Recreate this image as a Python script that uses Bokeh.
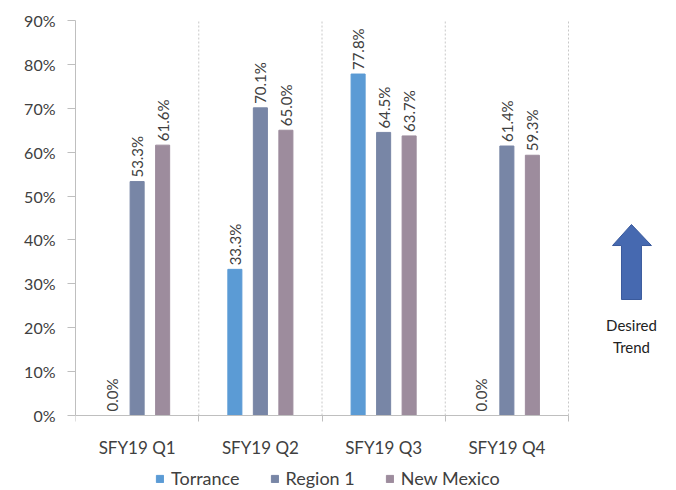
from bokeh.plotting import figure
from bokeh.models import (ColumnDataSource, Range1d, FixedTicker, Legend, LegendItem,
                          Label, CustomJSTickFormatter)
from bokeh.transform import dodge
from bokeh.core.properties import value
from bokeh.embed import file_html
from bokeh.resources import INLINE

categories = ["SFY19 Q1", "SFY19 Q2", "SFY19 Q3", "SFY19 Q4"]
series_names = ["Torrance", "Region 1", "New Mexico"]
torrance = [0.0, 33.3, 77.8, 0.0]
region1 = [53.3, 70.1, 64.5, 61.4]
new_mexico = [61.6, 65.0, 63.7, 59.3]
y_ticks = [0, 10, 20, 30, 40, 50, 60, 70, 80, 90]

colors = ["#5B9BD5", "#7886A6", "#9D8C9D"]
FONT = "Lato"
TXT = "#404040"

W, H = 676, 490
LEFT, TOP = 75, 20
PX_PER_CAT = 123.25
PX_PER_UNIT_Y = 395 / 0.9
x_end = (W - LEFT) / PX_PER_CAT
y_top = 0.9
y_min = -(H - TOP - 395) / PX_PER_UNIT_Y

centers = [i + 0.5 for i in range(len(categories))]
src = ColumnDataSource(dict(
    x=centers,
    t=[v / 100 for v in torrance],
    r=[v / 100 for v in region1],
    n=[v / 100 for v in new_mexico],
    tl=[f"{v:.1f}%" for v in torrance],
    rl=[f"{v:.1f}%" for v in region1],
    nl=[f"{v:.1f}%" for v in new_mexico],
))

p = figure(width=W, height=H, output_backend="svg", toolbar_location=None,
           x_range=Range1d(0, x_end), y_range=Range1d(y_min, y_top),
           min_border_left=LEFT, min_border_top=TOP, min_border_bottom=0,
           min_border_right=0, outline_line_color=None)

# category separators (dotted)
bounds_x = list(range(1, len(categories) + 1))
p.segment(x0=bounds_x, y0=[0] * len(bounds_x), x1=bounds_x, y1=[y_top] * len(bounds_x),
          line_color="#C8C8C8", line_dash="2 2", line_width=1)

offs = [-0.207, 0.0, 0.207]
bw = 0.114
renderers = []
for col, lab, off, c in zip(["t", "r", "n"], ["tl", "rl", "nl"], offs, colors):
    r = p.vbar(x=dodge("x", off, range=p.x_range), top=col, width=bw, source=src,
               fill_color=c, line_color=c)
    renderers.append(r)
    p.text(x=dodge("x", off, range=p.x_range), y=col, text=lab, source=src,
           angle=1.5708, text_align="left", text_baseline="middle", y_offset=-4,
           text_font=value(FONT), text_font_size="15px", text_color=TXT)

# axes
p.yaxis.ticker = FixedTicker(ticks=[v / 100 for v in y_ticks])
p.yaxis.formatter = CustomJSTickFormatter(code="return Math.round(tick*100) + '%';")
p.yaxis.bounds = (0, y_top)
p.yaxis.axis_line_color = "#BFBFBF"
p.yaxis.major_tick_line_color = "#BFBFBF"
p.yaxis.major_tick_out = 8
p.yaxis.major_tick_in = 0
p.yaxis.minor_tick_line_color = None
p.yaxis.major_label_standoff = 12
p.yaxis.major_label_text_font = FONT
p.yaxis.major_label_text_font_size = "16px"
p.yaxis.major_label_text_color = TXT

p.xaxis.fixed_location = 0
p.xaxis.ticker = FixedTicker(ticks=centers, minor_ticks=list(range(len(categories) + 1)))
p.xaxis.major_label_overrides = {c: lab for c, lab in zip(centers, categories)}
p.xaxis.bounds = (0, len(categories))
p.xaxis.axis_line_color = "#BFBFBF"
p.xaxis.major_tick_line_color = None
p.xaxis.minor_tick_line_color = "#BFBFBF"
p.xaxis.minor_tick_out = 6
p.xaxis.minor_tick_in = 0
p.xaxis.major_label_standoff = 15
p.xaxis.major_label_text_font = FONT
p.xaxis.major_label_text_font_size = "17px"
p.xaxis.major_label_text_color = TXT

p.xgrid.visible = False
p.ygrid.visible = False

# Desired trend arrow (annotation)
ax = [4.357, 4.511, 4.673, 4.592, 4.592, 4.430, 4.430]
ay = [0.3873, 0.4352, 0.3873, 0.3873, 0.2643, 0.2643, 0.3873]
p.patch(ax, ay, fill_color="#4669B0", line_color="#3A5A9C", line_width=1)
p.add_layout(Label(x=4.511, y=0.2073, text="Desired", text_align="center",
                   text_baseline="middle", text_font=FONT, text_font_size="15px",
                   text_color="#222222"))
p.add_layout(Label(x=4.511, y=0.157, text="Trend", text_align="center",
                   text_baseline="middle", text_font=FONT, text_font_size="15px",
                   text_color="#222222"))

legend = Legend(items=[LegendItem(label=n, renderers=[r]) for n, r in zip(series_names, renderers)],
                orientation="horizontal", location=(80, 1),
                border_line_color=None, background_fill_alpha=0,
                label_text_font=FONT, label_text_font_size="18px", label_text_color=TXT,
                glyph_width=9, glyph_height=9, label_standoff=7, spacing=30,
                padding=0, margin=0)
p.add_layout(legend, "center")

open("out.html", "w").write(file_html(p, INLINE))
